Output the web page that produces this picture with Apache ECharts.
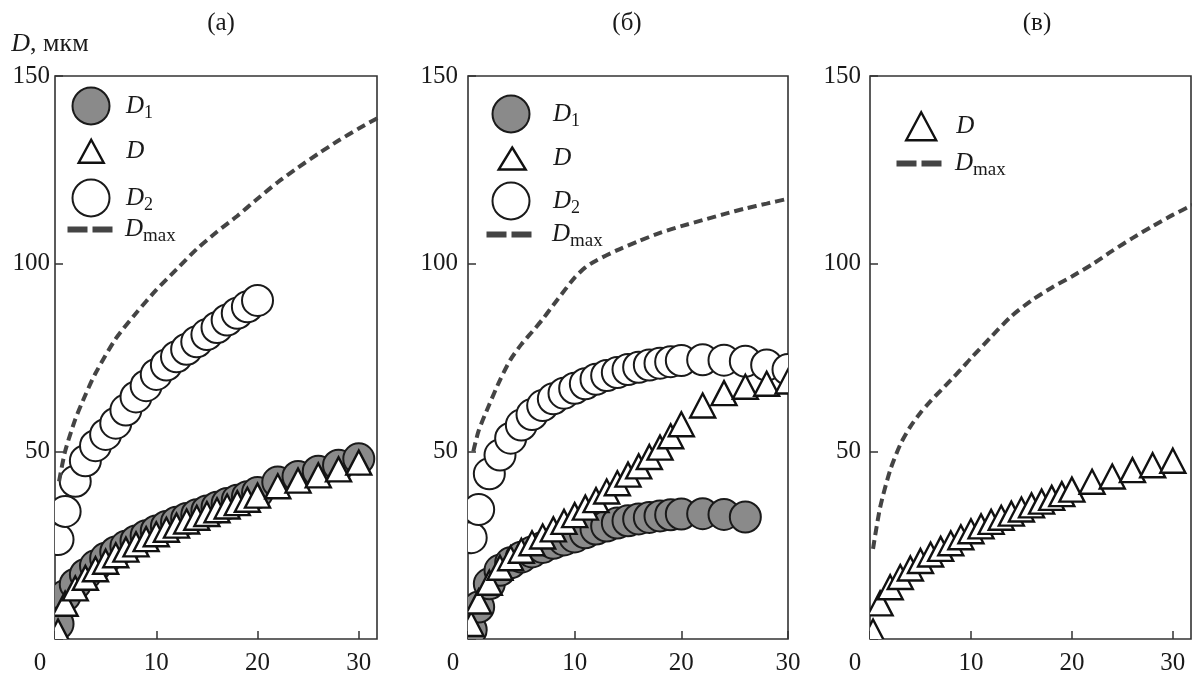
<!DOCTYPE html>
<html>
<head>
<meta charset="utf-8">
<script src="https://cdn.jsdelivr.net/npm/echarts@6/dist/echarts.min.js"></script>
<style>
html,body{margin:0;padding:0;background:#fff;}
#c{width:1192px;height:676px;}
</style>
</head>
<body>
<div id="c"></div>
<script>
// ---------- DATA ----------
const panelTitles = ['(а)', '(б)', '(в)'];
const xTicks = [0, 10, 20, 30];
const yTicks = [50, 100, 150];

const tFull = [0.3,1,2,3,4,5,6,7,8,9,10,11,12,13,14,15,16,17,18,19,20,22,24,26,28,30];
const tTo20 = [0.3,1,2,3,4,5,6,7,8,9,10,11,12,13,14,15,16,17,18,19,20];
const tTo26 = [0.3,1,2,3,4,5,6,7,8,9,10,11,12,13,14,15,16,17,18,19,20,22,24,26];

// panel (а)
const aD1 = [4,11.5,14.6,17.2,19.5,21.5,23.2,24.7,26.1,27.5,28.8,30,31.1,32.1,33.1,34.1,35.1,36.1,37,37.9,39,41.8,43.3,44.7,46.3,48];
const aD  = [2,9.4,13.5,16.3,18.6,20.6,22.3,23.8,25.2,26.6,27.9,29.1,30.2,31.3,32.3,33.3,34.3,35.3,36.2,37.1,38.2,40.7,42.2,43.6,45.2,47];
const aD2 = [26.5,34,42,47.5,51.5,54.5,57.5,61,64.5,67.5,70.5,73,75.2,77.2,79.2,81.1,83,85,86.8,88.5,90.2];
const aDmaxX = [0.4,1,2,3,4,6,8,10,12,14,16,18,20,22,24,26,28,30,32];
const aDmaxY = [42,50,58.5,65,70.8,80,86.8,93,98.5,103.9,108.5,112.7,117.3,121.7,125.6,129.3,132.8,136,139];

// panel (б)
const bD1 = [2.4,8.5,14.7,18.3,20.3,21.8,23.2,24.4,25.5,26.4,27.2,28.3,29.3,30.1,30.9,31.5,32,32.4,32.8,33.1,33.3,33.4,33.2,32.5];
const bD  = [4,10,15,19,21.5,23.5,25.5,27.3,29.2,31.2,33,35,37,39.3,41.5,43.8,46,48.5,51,54,57.2,62.2,65.5,67.2,68,68.6];
const bD2 = [27,34.5,44,49,53.5,57,59.8,62.2,64,65.5,66.8,68,69.2,70.2,71,71.8,72.4,73,73.5,73.9,74.2,74.4,74.3,74,73,71.8];
const bDmaxX = [0.5,1,2,3,4,5,6,7,8,9,10,11,12,14,16,18,20,22,24,26,28,30];
const bDmaxY = [50,55.5,62.5,69,74.5,78.5,81.8,85.2,89,92.7,96.3,99,100.8,103.6,106,108.2,110,111.6,113.2,114.7,116,117.3];

// panel (в)
const cD = [2,9.5,13.8,16.5,18.8,20.8,22.5,24,25.5,27.1,28.7,30,31.2,32.3,33.4,34.5,35.6,36.6,37.6,38.6,39.8,41.9,43.3,45,46.3,47.5];
const cDmaxX = [0.3,1,2,3,4,5,6,7,8,9,10,12,14,16,18,20,22,24,26,28,30,32];
const cDmaxY = [24,35,45,51.8,56.6,60.3,63.4,66.2,69,71.8,74.8,80.5,86,90.2,93.6,96.6,99.8,103.4,106.8,110,113,115.7];

// ---------- CHART ----------
const FONT = '"Liberation Serif", "Times New Roman", serif';
const INK = '#1a1a1a';
const GRAY = '#8a8a8a';
const DASHC = '#444444';

function pairs(xs, ys) { return ys.map((y, i) => [xs[i], y]); }

const grids = [
  {left: 55,  top: 76, width: 322, height: 566, xmax: 31.8, labelGap: 5,  showMax: false},
  {left: 468, top: 76, width: 320, height: 566, xmax: 30,   labelGap: 10, showMax: true},
  {left: 870, top: 76, width: 321, height: 566, xmax: 31.8, labelGap: 9,  showMax: false}
];

const option = {
  animation: false,
  backgroundColor: '#fff',
  title: panelTitles.map((t, i) => ({
    text: t,
    left: [216, 622, 1032][i],
    top: 6,
    textAlign: 'center',
    textStyle: {fontFamily: FONT, fontSize: 25, fontWeight: 'normal', color: INK}
  })),
  grid: grids.map(g => ({
    left: g.left, top: g.top, width: g.width, height: g.height,
    show: true, borderColor: '#333', borderWidth: 1.6, backgroundColor: 'transparent',
    containLabel: false
  })),
  xAxis: grids.map((g, i) => ({
    type: 'value', gridIndex: i, min: 0, max: g.xmax, interval: 10,
    axisLine: {show: false},
    axisTick: {show: true, inside: true, length: 8, lineStyle: {color: '#333', width: 1.5}},
    splitLine: {show: false},
    axisLabel: {
      showMaxLabel: g.showMax,
      margin: 12,
      fontFamily: FONT, fontSize: 25, color: INK,
      formatter: v => (xTicks.indexOf(v) < 0 ? '' : (v === 0 ? '{z|0}' : String(v))),
      rich: {z: {fontFamily: FONT, fontSize: 25, color: INK, padding: [0, 30, 0, 0]}}
    }
  })),
  yAxis: grids.map((g, i) => ({
    type: 'value', gridIndex: i, min: 0, max: 150, interval: 50,
    axisLine: {show: false},
    axisTick: {show: true, inside: true, length: 8, lineStyle: {color: '#333', width: 1.5}},
    splitLine: {show: false},
    axisLabel: {
      margin: g.labelGap,
      fontFamily: FONT, fontSize: 25, color: INK,
      formatter: v => (yTicks.indexOf(v) < 0 ? '' : String(v))
    },
    name: i === 0 ? '{i|D}, мкм' : '',
    nameLocation: 'end',
    nameGap: 19,
    nameTextStyle: {
      fontFamily: FONT, fontSize: 26, color: INK, align: 'center', padding: [0, 10, 0, 0],
      rich: {i: {fontFamily: FONT, fontSize: 26, fontStyle: 'italic', color: INK}}
    }
  })),
  legend: [],
  series: []
};

const markStyle = {
  D1: {kind: 'circle', r: 15.5, fill: GRAY, stroke: INK, lw: 2},
  D2: {kind: 'circle', r: 15.5, fill: '#fff', stroke: INK, lw: 2},
  D:  {kind: 'triangle', w: 25, h: 24, fill: '#fff', stroke: '#111', lw: 2.4}
};

function addMarks(gi, name, xs, ys) {
  const ms = markStyle[name];
  option.series.push({
    type: 'custom', name: name, xAxisIndex: gi, yAxisIndex: gi,
    data: pairs(xs, ys), clip: true, silent: true,
    encode: {x: 0, y: 1},
    itemStyle: {color: ms.fill, borderColor: ms.stroke, borderWidth: ms.lw},
    renderItem: function (params, api) {
      const p = api.coord([api.value(0), api.value(1)]);
      const style = {fill: ms.fill, stroke: ms.stroke, lineWidth: ms.lw};
      if (ms.kind === 'circle') {
        return {type: 'circle', shape: {cx: p[0], cy: p[1], r: ms.r}, style: style};
      }
      const hw = ms.w / 2, hh = ms.h / 2;
      return {
        type: 'polygon',
        shape: {points: [[p[0], p[1] - hh], [p[0] + hw, p[1] + hh], [p[0] - hw, p[1] + hh]]},
        style: style
      };
    }
  });
}
function addLine(gi, xs, ys) {
  option.series.push({
    type: 'line', name: 'Dmax', xAxisIndex: gi, yAxisIndex: gi, data: pairs(xs, ys),
    symbol: 'none', smooth: 0.25, silent: true, clip: true,
    itemStyle: {color: DASHC},
    lineStyle: {color: DASHC, width: 4, type: [9, 5]}
  });
}

addMarks(0, 'D1', tFull, aD1);
addMarks(0, 'D2', tTo20, aD2);
addMarks(0, 'D', tFull, aD);
addLine(0, aDmaxX, aDmaxY);

addMarks(1, 'D1', tTo26, bD1);
addMarks(1, 'D2', tFull, bD2);
addMarks(1, 'D', tFull, bD);
addLine(1, bDmaxX, bDmaxY);

addMarks(2, 'D', tFull, cD);
addLine(2, cDmaxX, cDmaxY);

// ---------- LEGENDS ----------
const legendLabel = {
  D1: '{i|D}{s|1}', D: '{i|D}', D2: '{i|D}{s|2}', Dmax: '{i|D}{m|max}'
};
const iconSpec = {
  D1: {icon: 'circle', w: 37, h: 37, style: {color: GRAY, borderColor: INK, borderWidth: 2}},
  D2: {icon: 'circle', w: 37, h: 37, style: {color: '#fff', borderColor: INK, borderWidth: 2}},
  D: {icon: 'triangle', w: 25, h: 23, style: {color: '#fff', borderColor: '#111', borderWidth: 2.4}},
  Dmax: {icon: 'path://M0,0h20v6h-20z M25,0h20v6h-20z', w: 45, h: 6, style: {color: DASHC, borderWidth: 0}}
};
function addLegend(name, cx, cy, textX, triW, triH) {
  const s = Object.assign({}, iconSpec[name]);
  if (name === 'D' && triW) { s.w = triW; s.h = triH; }
  const left = cx - s.w / 2;
  const top = name === 'Dmax' ? cy - 16 : cy - s.h / 2;
  const pad = textX - left - s.w - 5;
  option.legend.push({
    data: [{name: name, icon: s.icon}],
    left: left, top: top, padding: 0,
    itemWidth: s.w, itemHeight: s.h,
    selectedMode: false,
    itemStyle: s.style,
    formatter: n => legendLabel[n],
    textStyle: {
      fontFamily: FONT, color: INK, padding: [0, 0, 0, pad],
      rich: {
        i: {fontFamily: FONT, fontSize: 25, fontStyle: 'italic', color: INK, lineHeight: 32},
        s: {fontFamily: FONT, fontSize: 18, color: INK, lineHeight: 18, verticalAlign: 'bottom'},
        m: {fontFamily: FONT, fontSize: 19, color: INK, lineHeight: 18, verticalAlign: 'bottom'}
      }
    }
  });
}
// panel (а)
addLegend('D1', 90, 105, 125);
addLegend('D', 90, 150, 125);
addLegend('D2', 90, 197, 125);
addLegend('Dmax', 90, 233, 125);
// panel (б)
addLegend('D1', 510, 113, 552);
addLegend('D', 511, 157, 552, 27, 22);
addLegend('D2', 510, 200, 552);
addLegend('Dmax', 509, 238, 552);
// panel (в)
addLegend('D', 920, 125, 955, 30, 28);
addLegend('Dmax', 919, 167, 955);

const chart = echarts.init(document.getElementById('c'), null, {renderer: 'canvas'});
chart.setOption(option);
</script>
</body>
</html>
